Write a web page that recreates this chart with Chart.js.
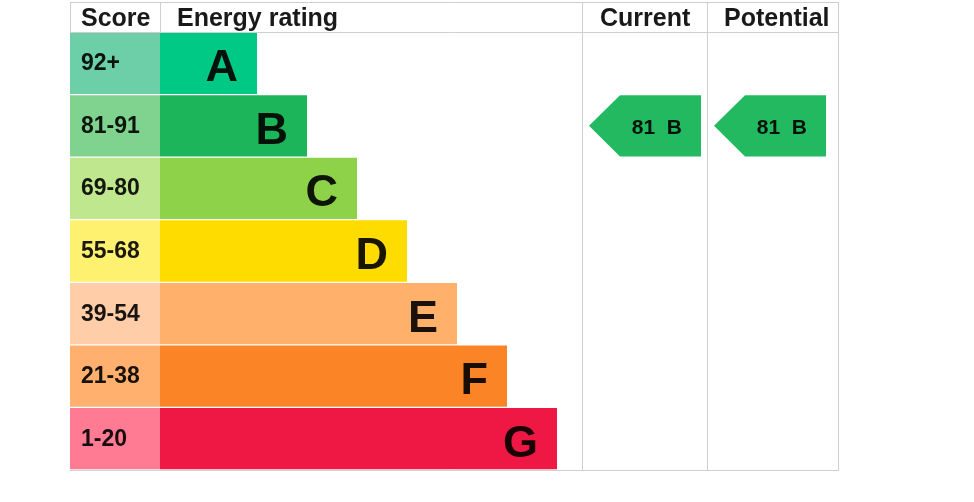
<!DOCTYPE html>
<html>
<head>
<meta charset="utf-8">
<title>Energy rating</title>
<script src="https://cdn.jsdelivr.net/npm/chart.js@4/dist/chart.umd.min.js"></script>
<style>
  html, body { margin: 0; padding: 0; background: #ffffff; }
  #wrap { width: 974px; height: 502px; }
</style>
</head>
<body>
<div id="wrap"><canvas id="epc" width="974" height="502"></canvas></div>
<script>
// ---- data ----
const bands = ['A', 'B', 'C', 'D', 'E', 'F', 'G'];
const scoreRanges = ['92+', '81-91', '69-80', '55-68', '39-54', '21-38', '1-20'];
const bandMinScores = [92, 81, 69, 55, 39, 21, 1];
const ratingBarLengths = [97, 147, 197, 247, 297, 347, 397];
const currentScore = 81;
const potentialScore = 81;

// ---- styles ----
const scoreColours = ['#6ccfa8', '#7fd38f', '#bfe88e', '#fff170', '#ffcda8', '#ffb06e', '#ff7b93'];
const barColours   = ['#00c985', '#1cb55a', '#8dd248', '#ffdc00', '#ffb16c', '#fb8426', '#ef1744'];
const arrowColour = '#22b960';
const lineColour = '#cfcfcf';
const textColour = 'rgba(0, 0, 0, 0.9)';
const FONT = '"Liberation Sans", Arial, Helvetica, sans-serif';

// Table columns in x-scale units (the table is 768 units wide)
const COLS = {
  score:     { from: 0,   to: 90,  title: 'Score',         pad: 11 },
  rating:    { from: 90,  to: 512, title: 'Energy rating', pad: 17 },
  current:   { from: 512, to: 637, title: 'Current',       pad: 18 },
  potential: { from: 637, to: 768, title: 'Potential',     pad: 17 }
};
const HEADER_TOP = 2;

function bandIndexFor(score) {
  for (let i = 0; i < bandMinScores.length; i++) {
    if (score >= bandMinScores[i]) return i;
  }
  return bandMinScores.length - 1;
}

const tablePlugin = {
  id: 'epcTable',
  afterDraw(chart) {
    const { ctx, chartArea: ca, scales: { x, y } } = chart;
    const px = v => Math.round(x.getPixelForValue(v));
    const left = px(0), right = px(768);
    const rowsMeta = chart.getDatasetMeta(1).data;

    ctx.save();
    // grid lines
    ctx.strokeStyle = lineColour;
    ctx.lineWidth = 1;
    ctx.beginPath();
    ctx.moveTo(left, HEADER_TOP + 0.5); ctx.lineTo(right + 1, HEADER_TOP + 0.5);
    ctx.moveTo(left, ca.top + 0.5); ctx.lineTo(right + 1, ca.top + 0.5);
    ctx.moveTo(left, ca.bottom + 0.5); ctx.lineTo(right + 1, ca.bottom + 0.5);
    ctx.moveTo(left + 0.5, HEADER_TOP); ctx.lineTo(left + 0.5, ca.top);
    ctx.moveTo(px(COLS.rating.from) + 0.5, HEADER_TOP); ctx.lineTo(px(COLS.rating.from) + 0.5, ca.top);
    [COLS.current.from, COLS.potential.from, COLS.potential.to].forEach(v => {
      ctx.moveTo(px(v) + 0.5, HEADER_TOP); ctx.lineTo(px(v) + 0.5, ca.bottom + 1);
    });
    ctx.stroke();

    // header titles
    ctx.fillStyle = textColour;
    ctx.font = 'bold 25px ' + FONT;
    ctx.textAlign = 'left';
    ctx.textBaseline = 'alphabetic';
    Object.values(COLS).forEach(c => {
      ctx.fillText(c.title, px(c.from) + c.pad, 26);
    });

    // score ranges and band letters
    bands.forEach((b, i) => {
      const cy = y.getPixelForValue(i);
      ctx.fillStyle = textColour;
      ctx.font = 'bold 23px ' + FONT;
      ctx.textAlign = 'left';
      ctx.fillText(scoreRanges[i], px(COLS.score.from) + COLS.score.pad, cy + 7);

      const barEnd = rowsMeta[i].x;
      ctx.font = 'bold 45px ' + FONT;
      ctx.textAlign = 'right';
      ctx.fillText(b, barEnd - 19, cy + 18);
    });

    // current / potential arrows
    const drawArrow = (col, score) => {
      const i = bandIndexFor(score);
      const bar = rowsMeta[i];
      const top = bar.y - bar.height / 2;
      const bot = bar.y + bar.height / 2;
      const tip = px(col.from) + 7;
      const bodyL = tip + 31;
      const bodyR = tip + 112;
      ctx.fillStyle = arrowColour;
      ctx.beginPath();
      ctx.moveTo(tip, bar.y);
      ctx.lineTo(bodyL, top);
      ctx.lineTo(bodyR, top);
      ctx.lineTo(bodyR, bot);
      ctx.lineTo(bodyL, bot);
      ctx.closePath();
      ctx.fill();
      ctx.fillStyle = textColour;
      ctx.font = 'bold 21px ' + FONT;
      ctx.textAlign = 'right';
      ctx.fillText(score + '  ' + bands[i], bodyR - 19, bar.y + 8.3);
    };
    drawArrow(COLS.current, currentScore);
    drawArrow(COLS.potential, potentialScore);
    ctx.restore();
  }
};

new Chart(document.getElementById('epc'), {
  type: 'bar',
  data: {
    labels: bands,
    datasets: [
      {
        label: 'Score',
        data: bands.map(() => COLS.score.to - COLS.score.from),
        backgroundColor: scoreColours,
        borderWidth: 0,
        barPercentage: 0.98,
        categoryPercentage: 1
      },
      {
        label: 'Energy rating',
        data: ratingBarLengths,
        backgroundColor: barColours,
        borderWidth: 0,
        barPercentage: 0.98,
        categoryPercentage: 1
      }
    ]
  },
  options: {
    indexAxis: 'y',
    responsive: false,
    animation: false,
    devicePixelRatio: 1,
    layout: { padding: { left: 70, right: 136, top: 32, bottom: 32 } },
    scales: {
      x: { type: 'linear', min: 0, max: 768, stacked: true, display: false },
      y: { type: 'category', stacked: true, display: false }
    },
    plugins: {
      legend: { display: false },
      tooltip: { enabled: false }
    }
  },
  plugins: [tablePlugin]
});
</script>
</body>
</html>
